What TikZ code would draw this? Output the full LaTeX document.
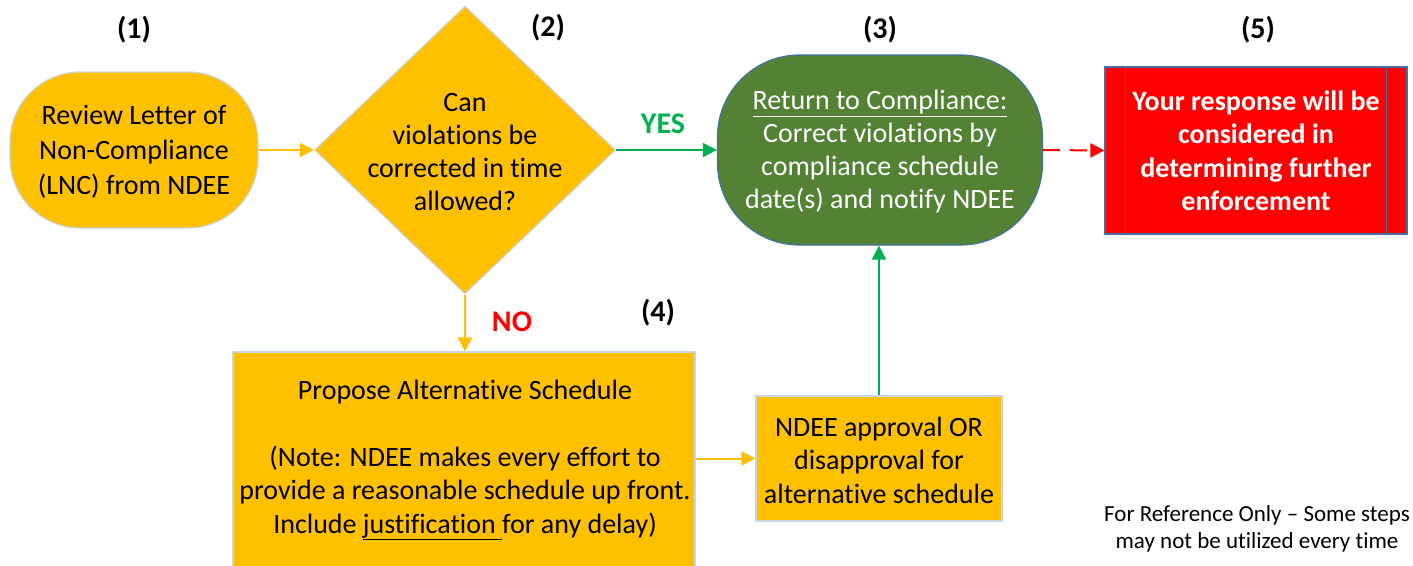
\documentclass[tikz,border=0pt]{standalone}
\usepackage{fontspec}
\setmainfont{Carlito}[Ligatures=NoCommon]
\usepackage{xcolor}
\usepackage{tikz}
\usetikzlibrary{shapes.geometric,arrows.meta}
\definecolor{gold}{HTML}{FFC000}
\definecolor{leaf}{HTML}{548235}
\definecolor{okgreen}{HTML}{00B050}
\definecolor{edgeblue}{HTML}{41719C}
\definecolor{paleedge}{HTML}{CAD5E3}
\tikzstyle{body}=[font=\fontsize{28}{35}\selectfont, align=center, inner sep=0pt]
\tikzstyle{gold node}=[fill=gold, draw=paleedge, line width=1.2pt, inner sep=0pt]
\tikzstyle{step label}=[font=\fontsize{30}{30}\selectfont\bfseries]
\tikzstyle{gold arrow}=[draw=gold, line width=2pt, -{Triangle[length=14pt,width=14pt]}]
\tikzstyle{green arrow}=[draw=okgreen, line width=2pt, -{Triangle[length=14pt,width=14pt]}]
\tikzstyle{red arrow}=[draw=red, line width=2pt, dash pattern=on 17pt off 10pt, -{Triangle[length=14pt,width=14pt]}]
\pgfdeclarelayer{nodelayer}
\pgfdeclarelayer{edgelayer}
\pgfsetlayers{edgelayer,nodelayer,main}

\begin{document}
\begin{tikzpicture}[x=1pt, y=-1pt]
	\useasboundingbox (0,0) rectangle (1413,565);
	\begin{pgfonlayer}{nodelayer}
		\node [style=gold node, rounded corners=70pt, minimum width=248pt, minimum height=156pt] (0) at (134, 150) {};
		\node [style=body] at (134, 152) {Review Letter of\\Non-Compliance\\(LNC) from NDEE};
		\node [style=gold node, shape=diamond, minimum width=301pt, minimum height=288pt] (1) at (465, 150) {};
		\node [style=body, font=\fontsize{28}{33}\selectfont] at (465, 152) {Can\\violations be\\corrected in time\\allowed?};
		\node [fill=leaf, draw=edgeblue, line width=1.2pt, rounded corners=82pt, minimum width=325pt, minimum height=190pt] (2) at (880, 150) {};
		\node [style=body, font=\fontsize{28}{33}\selectfont, text=white] at (880, 152) {\underline{Return to Compliance:}\\Correct violations by\\compliance schedule\\date(s) and notify NDEE};
		\node [fill=red, draw=edgeblue, line width=1.2pt, minimum width=302pt, minimum height=167pt] (3) at (1256, 150.5) {};
		\node [style=body, font=\fontsize{28}{33.5}\selectfont\bfseries, text=white] at (1256, 151) {Your response will be\\considered in\\determining further\\enforcement};
		\node [style=gold node, minimum width=462pt, minimum height=224pt] (4) at (464, 464) {};
		\node [style=body, font=\fontsize{28}{33.5}\selectfont] at (465, 460) {Propose Alternative Schedule\\[33.5pt](Note: NDEE makes every effort to\\provide a reasonable schedule up front.\\Include \underline{justification\ }for any delay)};
		\node [style=gold node, minimum width=246pt, minimum height=125pt] (5) at (879, 458.5) {};
		\node [style=body, font=\fontsize{28}{33.5}\selectfont] at (879, 460) {NDEE approval OR\\disapproval for\\alternative schedule};
		\node [style=step label] (s1) at (134, 30) {(1)};
		\node [style=step label] (s2) at (548, 28) {(2)};
		\node [style=step label] (s3) at (880, 30) {(3)};
		\node [style=step label] (s4) at (658, 313) {(4)};
		\node [style=step label] (s5) at (1258, 30) {(5)};
		\node [style=step label, text=okgreen] (yes) at (663, 124) {YES};
		\node [style=step label, text=red] (no) at (512, 322) {NO};
		\node [style=body, font=\fontsize{23}{27}\selectfont] (note) at (1257, 529) {For Reference Only -- Some steps\\may not be utilized every time};
	\end{pgfonlayer}
	\begin{pgfonlayer}{edgelayer}
		\draw [style=gold arrow] (0.east) to (1.west);
		\draw [style=green arrow] (1.east) to (2.west);
		\draw [style=red arrow] (2.east) to (3.west);
		\draw [style=gold arrow] (1.south) to (1.south |- 4.north);
		\draw [style=gold arrow] (4.east |- 5.west) to (5.west);
		\draw [style=green arrow] (5.north) to (5.north |- 2.south);
	\end{pgfonlayer}
	\draw [draw=edgeblue, line width=1.2pt] ([xshift=21pt]3.north west) -- ([xshift=21pt]3.south west);
	\draw [draw=edgeblue, line width=1.2pt] ([xshift=-21pt]3.north east) -- ([xshift=-21pt]3.south east);
\end{tikzpicture}
\end{document}
